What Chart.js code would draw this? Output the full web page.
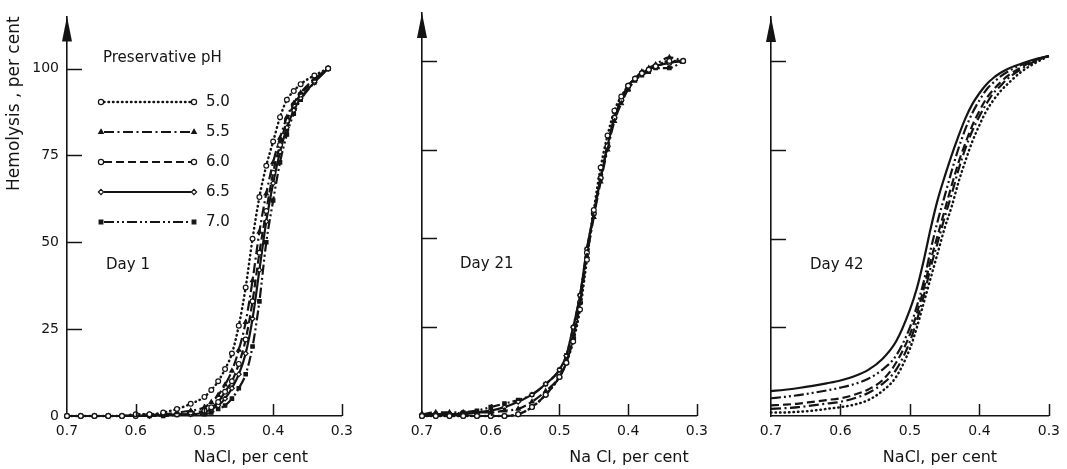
<!DOCTYPE html>
<html><head><meta charset="utf-8">
<script src="https://cdn.jsdelivr.net/npm/chart.js@4.4.0/dist/chart.umd.min.js"></script>
<style>
html,body{margin:0;padding:0;background:#fff;}
#wrap{position:relative;width:1067px;height:469px;overflow:hidden;background:#fff;}
.panel{position:absolute;top:0;height:469px;}
canvas{display:block;}
</style></head><body>
<div id="wrap">
<div class="panel" style="left:0;width:360px"><canvas id="c1" width="360" height="469"></canvas></div>
<div class="panel" style="left:360px;width:355px"><canvas id="c2" width="355" height="469"></canvas></div>
<div class="panel" style="left:715px;width:352px"><canvas id="c3" width="352" height="469"></canvas></div>
</div>
<script>
// ---------- data ----------
const phLabels = ['5.0', '5.5', '6.0', '6.5', '7.0'];
const xTicks = [0.7, 0.6, 0.5, 0.4, 0.3];
const yTicks = [0, 25, 50, 75, 100];

const naclA = [0.70,0.68,0.66,0.64,0.62,0.60,0.58,0.56,0.54,0.52,0.50,0.49,0.48,0.47,0.46,0.45,0.44,0.43,0.42,0.41,0.40,0.39,0.38,0.37,0.36,0.34,0.32];
const naclB = [0.70,0.68,0.66,0.64,0.62,0.60,0.58,0.56,0.54,0.52,0.50,0.49,0.48,0.47,0.46,0.45,0.44,0.43,0.42,0.41,0.40,0.39,0.38,0.37,0.36,0.34,0.32,0.30];

// Day 1
const day1_pH50 = [0,0,0,0,0, 0.5,0.5,1,2,3.5, 5.5,7.5,10,13.5,18, 26,37,51,63,72, 79,86,91,93.5,95.5, 98,100];
const day1_pH55 = [0,0,0,0,0, 0.3,0.5,0.5,1,1.5, 2.5,4,6,9,13, 19,27,39,53,64, 73,80,86,90,93, 97,100];
const day1_pH60 = [0,0,0,0,0, 0,0.3,0.5,0.5,1, 1.5,2.5,4,7,10, 15,22,33,47,59, 70,78,85,89.5,92.5, 96.5,100];
const day1_pH65 = [0,0,0,0,0, 0,0,0.3,0.5,0.5, 1,2,3,5,8, 12,18,28,42,56, 67,76,83,88,91.5, 96,100];
const day1_pH70 = [0,0,0,0,0, 0,0,0,0.3,0.5, 0.5,1,2,3,5, 8,12,20,33,50, 62,73,81,87,91, 96,100];

// Day 21
const day21_pH50 = [0,0,0,0,0, 0,0,0.5,2.5,6, 11,15,21,30,44, 58,70,79,86,90, 93,95,96.5,97.5,98.5, 100,100];
const day21_pH55 = [0.5,1,1,1,1, 1,1.5,2,4,7, 11,15,22,32,45, 56,66,75,83,88, 92,95,97,98,99, 101,100];
const day21_pH60 = [0,0,0,0,0, 0,0,0.5,2.5,6, 11,15,22,32,46, 57,67,76,84,89, 93,95,96.5,97.5,98.5, 99.5,100];
const day21_pH65 = [0.5,0.5,0.5,0.5,1, 1.5,2.5,4,6,9, 13,17,25,34,47, 57,67,76,84,89, 93,95,96.5,97.5,98.5, 99.5,100];
const day21_pH70 = [0,0.5,0.5,1,1.5, 2.5,3.5,4.5,6,9, 13,17,25,34,47, 57,67,76,84,89, 92,94.5,96,97,98, 98,100];

// Day 42
const day42_pH50 = [1,1,1.2,1.5,2, 2.5,3.2,4.5,7,11, 19,25,32,39,46, 53,59,66,72,77.5, 82,86,89,91.5,93.5, 97,99.5,101.5];
const day42_pH55 = [2,2.2,2.5,3,3.5, 4,5,6.5,9,13, 21,27,34,42,49, 56,62.5,69.5,75.5,80.5, 84.5,88,91,93,95, 97.8,100,101.5];
const day42_pH60 = [3,3.2,3.5,4,4.5, 5,6,7.5,10,15, 23,29,36,44,51, 58,65,71.5,77,82, 86,89.5,92,94,95.8, 98.3,100.3,101.5];
const day42_pH65 = [7,7.4,7.9,8.5,9.2, 10,11.2,13,16,21, 30,36,44,53,61, 67.5,73.5,79,84,88, 91,93.5,95.3,96.7,97.8, 99.3,100.6,101.5];
const day42_pH70 = [5,5.4,5.9,6.5,7.2, 8,9,10.5,13,17, 25,31,38,47,55, 62,69,75.5,81,85.5, 89,92,94,95.7,97, 99,100.5,101.5];

// ---------- styles ----------
const INK = '#141414';
const seriesStyle = [
  {dash:[0.5,4], cap:'round', width:2.5, point:'circle', fill:'#fff'},
  {dash:[10,3.5,2,3.5], cap:'butt', width:2.2, point:'triangle', fill:INK},
  {dash:[8,4], cap:'butt', width:2.2, point:'circle', fill:'#fff'},
  {dash:[], cap:'butt', width:2.2, point:'rectRot', fill:'#fff'},
  {dash:[10,3,2,3,2,3], cap:'butt', width:2.2, point:'rect', fill:INK}
];

function makeDatasets(xs, seriesList, radius) {
  return seriesList.map((ys, i) => {
    const st = seriesStyle[i];
    return {
      label: phLabels[i],
      data: xs.map((x, k) => ({x: x, y: ys[k]})),
      showLine: true,
      borderColor: INK,
      borderWidth: st.width,
      borderDash: st.dash,
      borderCapStyle: st.cap,
      cubicInterpolationMode: 'monotone',
      pointStyle: st.point,
      pointRadius: radius,
      pointBackgroundColor: st.fill,
      pointBorderColor: INK,
      pointBorderWidth: 1.2,
      clip: false
    };
  });
}

// ---------- plugins ----------
const axisDecor = {
  id: 'axisDecor',
  afterDraw(chart) {
    const ctx = chart.ctx;
    const ca = chart.chartArea;
    const xs = chart.scales.x, ys = chart.scales.y;
    ctx.save();
    ctx.strokeStyle = INK;
    ctx.lineWidth = 1.5;
    ys.ticks.forEach(t => {
      if (t.value === 0) return;
      const y = Math.round(ys.getPixelForValue(t.value)) + 0.5;
      ctx.beginPath(); ctx.moveTo(ca.left, y); ctx.lineTo(ca.left + 15, y); ctx.stroke();
    });
    xs.ticks.forEach(t => {
      if (Math.abs(t.value - 0.7) < 1e-6) return;
      const x = Math.round(xs.getPixelForValue(t.value)) + 0.5;
      ctx.beginPath(); ctx.moveTo(x, ca.bottom); ctx.lineTo(x, ca.bottom - 12); ctx.stroke();
    });
    ctx.fillStyle = INK;
    ctx.beginPath();
    ctx.moveTo(ca.left, ca.top);
    ctx.lineTo(ca.left - 5, ca.top + 25);
    ctx.lineTo(ca.left + 5, ca.top + 25);
    ctx.closePath();
    ctx.fill();
    ctx.restore();
  }
};

const panelText = {
  id: 'panelText',
  afterDraw(chart, args, opts) {
    const ctx = chart.ctx;
    ctx.save();
    ctx.fillStyle = INK;
    ctx.textBaseline = 'middle';
    ctx.textAlign = 'left';
    (opts.items || []).forEach(it => {
      ctx.font = (it.size || 15) + 'px "DejaVu Sans", sans-serif';
      ctx.textAlign = it.align || 'left';
      ctx.fillText(it.text, it.x, it.y);
    });
    if (opts.legend) {
      const L = opts.legend;
      ctx.font = '15px "DejaVu Sans", sans-serif';
      ctx.textAlign = 'left';
      ctx.fillText(L.title, L.x, L.titleY);
      chart.data.datasets.forEach((ds, i) => {
        const y = L.y0 + i * L.dy;
        ctx.save();
        ctx.strokeStyle = INK;
        ctx.lineWidth = ds.borderWidth;
        ctx.setLineDash(ds.borderDash);
        ctx.lineCap = ds.borderCapStyle;
        ctx.beginPath(); ctx.moveTo(L.x0 + 3, y); ctx.lineTo(L.x1 - 3, y); ctx.stroke();
        ctx.setLineDash([]);
        ctx.fillStyle = ds.pointBackgroundColor;
        ctx.strokeStyle = INK;
        ctx.lineWidth = 1.2;
        [L.x0, L.x1].forEach(px => {
          Chart.helpers.drawPoint(ctx, {pointStyle: ds.pointStyle, radius: 2.6, rotation: 0, borderWidth: 1.2}, px, y);
        });
        ctx.restore();
        ctx.fillStyle = INK;
        ctx.fillText(ds.label, L.lx, y);
      });
    }
    ctx.restore();
  }
};

// ---------- chart factory ----------
function makePanel(id, cfg) {
  const font = {family: '"DejaVu Sans", sans-serif', size: 14};
  return new Chart(document.getElementById(id), {
    type: 'scatter',
    data: {datasets: makeDatasets(cfg.xs, cfg.series, cfg.radius)},
    plugins: [axisDecor, panelText],
    options: {
      responsive: false,
      animation: false,
      devicePixelRatio: 1,
      layout: {padding: {top: cfg.top, right: cfg.right, left: 0, bottom: 0}},
      plugins: {
        legend: {display: false},
        tooltip: {enabled: false},
        panelText: {items: cfg.texts, legend: cfg.legend}
      },
      scales: {
        x: {
          type: 'linear', reverse: true, min: 0.3, max: 0.7,
          afterBuildTicks: s => { s.ticks = xTicks.map(v => ({value: v})); },
          afterFit: s => { s.height = 53; },
          ticks: {font: font, color: INK, padding: 7, callback: v => Number(v).toFixed(1), maxRotation: 0},
          grid: {drawOnChartArea: false, drawTicks: false},
          border: {display: true, color: INK, width: 1.6}
        },
        y: {
          min: 0, max: cfg.yMax,
          afterBuildTicks: s => { s.ticks = yTicks.map(v => ({value: v})); },
          afterFit: s => { s.width = cfg.yWidth; },
          ticks: {display: cfg.yLabels, font: font, color: INK, padding: 8},
          grid: {drawOnChartArea: false, drawTicks: false},
          border: {display: true, color: INK, width: 1.6},
          title: {display: cfg.yLabels, text: 'Hemolysis , per cent', align: 'end',
                  color: INK, font: {family: '"DejaVu Sans", sans-serif', size: 17},
                  padding: {top: 4, bottom: 0}}
        }
      }
    }
  });
}

makePanel('c1', {
  xs: naclA, radius: 2.4,
  series: [day1_pH50, day1_pH55, day1_pH60, day1_pH65, day1_pH70],
  top: 8, right: 13, yMax: 115, yWidth: 67, yLabels: true,
  texts: [
    {text: 'NaCl, per cent', x: 251, y: 458, align: 'center', size: 16},
    {text: 'Day 1', x: 106, y: 265, size: 15}
  ],
  legend: {title: 'Preservative pH', x: 103, titleY: 58, x0: 101, x1: 194, lx: 206, y0: 102, dy: 30}
});

makePanel('c2', {
  xs: naclA, radius: 2.4,
  series: [day21_pH50, day21_pH55, day21_pH60, day21_pH65, day21_pH70],
  top: 13, right: 14, yMax: 113.5, yWidth: 62, yLabels: false,
  texts: [
    {text: 'Na Cl, per cent', x: 629 - 360, y: 458, align: 'center', size: 16},
    {text: 'Day 21', x: 460 - 360, y: 264, size: 15}
  ]
});

makePanel('c3', {
  xs: naclB, radius: 0,
  series: [day42_pH50, day42_pH55, day42_pH60, day42_pH65, day42_pH70],
  top: 17, right: 14, yMax: 112.5, yWidth: 56, yLabels: false,
  texts: [
    {text: 'NaCl, per cent', x: 940 - 715, y: 458, align: 'center', size: 16},
    {text: 'Day 42', x: 810 - 715, y: 265, size: 15}
  ]
});
</script>
</body></html>
